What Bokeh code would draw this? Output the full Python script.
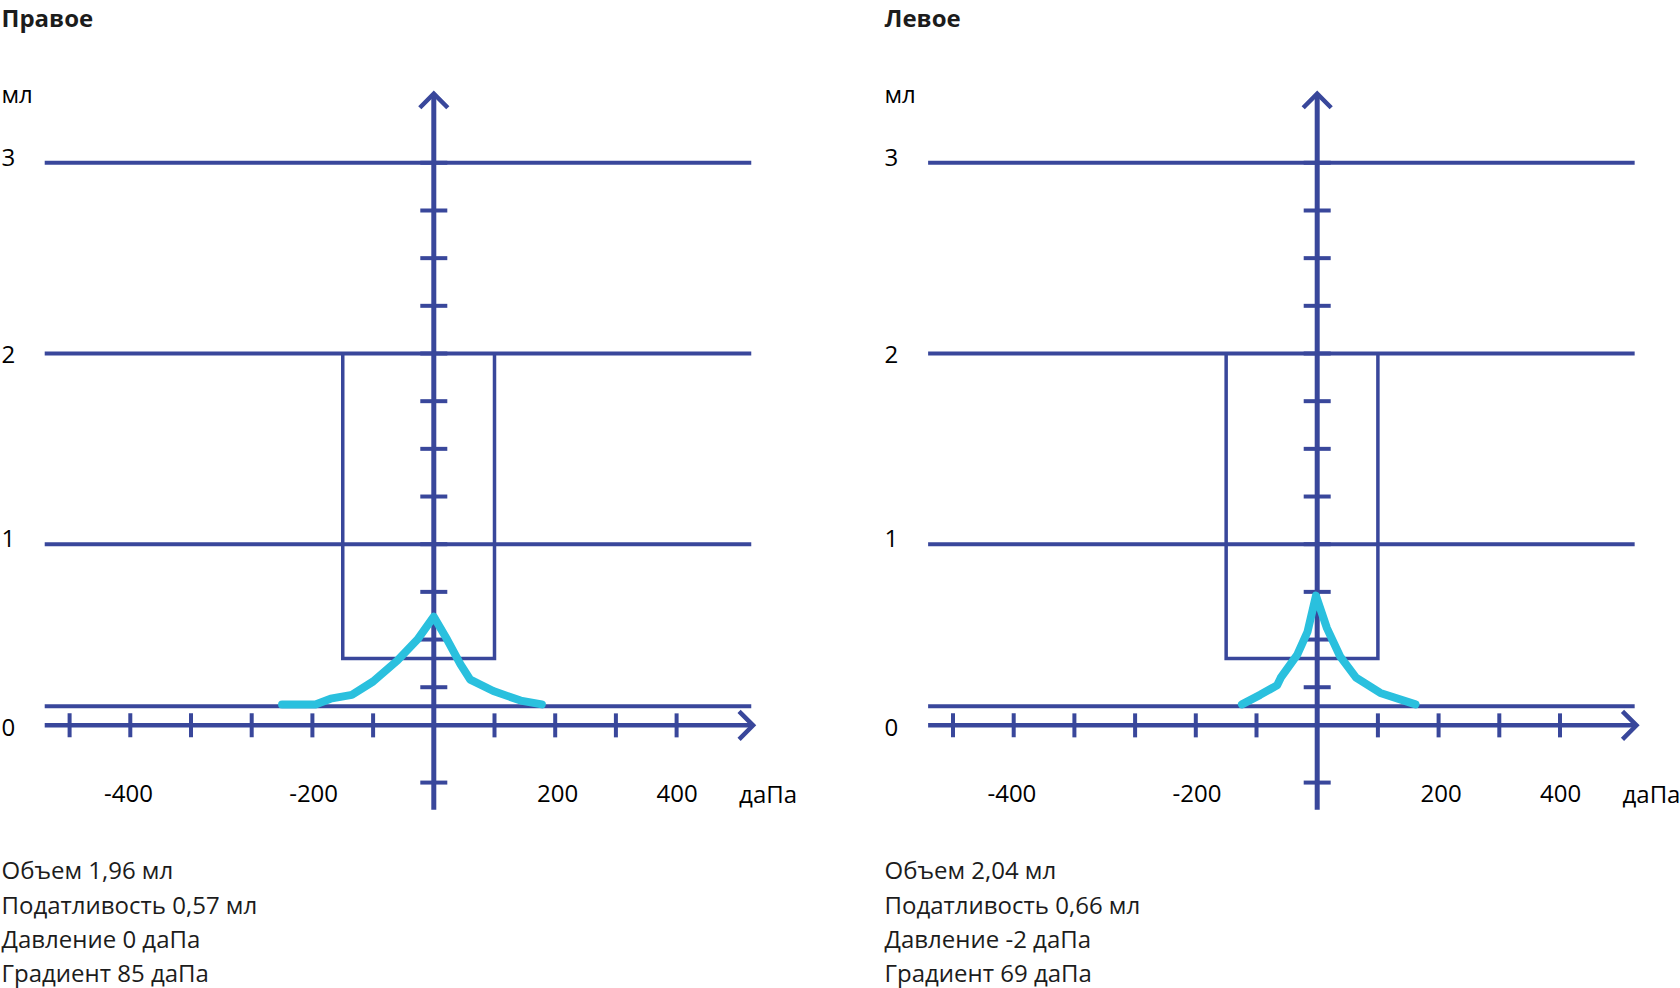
from bokeh.plotting import figure
from bokeh.layouts import row
from bokeh.models import Label, Range1d
from bokeh.core.properties import value
from bokeh.embed import file_html
from bokeh.resources import INLINE

# ---------------- data ----------------
panel_titles = ["Правое", "Левое"]

pressure_right_ear = [-250, -195, -170, -135, -100, -60, -27, 0, 22, 44, 60, 98, 143, 178]
volume_right_ear = [0.16, 0.16, 0.19, 0.21, 0.28, 0.39, 0.50, 0.62, 0.50, 0.37, 0.29, 0.23, 0.18, 0.16]

pressure_left_ear = [-124, -94, -66, -60, -33, -16, -2, 16, 38, 64, 104, 162]
volume_left_ear = [0.16, 0.21, 0.26, 0.30, 0.42, 0.54, 0.73, 0.56, 0.41, 0.30, 0.22, 0.16]

info_right_ear = ["Объем 1,96 мл", "Податливость 0,57 мл", "Давление 0 даПа", "Градиент 85 даПа"]
info_left_ear = ["Объем 2,04 мл", "Податливость 0,66 мл", "Давление -2 даПа", "Градиент 69 даПа"]

x_tick_values = [-600, -500, -400, -300, -200, -100, 100, 200, 300, 400]
x_tick_label_pos = [-503, -198, 204, 401]
x_tick_labels = ["-400", "-200", "200", "400"]
x_unit = "даПа"

y_tick_values = [-0.25, 0.25, 0.5, 0.75, 1, 1.25, 1.5, 1.75, 2, 2.25, 2.5, 2.75, 3]
y_grid_values = [3, 2, 1, 0.15]
y_labels = ["3", "2", "1", "0"]
y_label_pos = [3.03, 1.995, 1.028, 0.04]
y_unit = "мл"

norm_left, norm_right = -150, 100
norm_bottom, norm_top = 0.4, 2.0

x_min, x_max, x_tip = -641, 523, 526
x_axis_level = 0.05
y_axis_bottom, y_axis_top = -0.393, 3.362

# ---------------- style ----------------
BLUE = "#39479b"
CYAN = "#2ac0de"
TEXT = "#1c1c1c"
FONT = "Open Sans"
FS = "24px"
KX = 0.607   # px per daPa
KY = 190.7   # px per ml
H = 988
ZERO_FROM_TOP = 734.4  # px of volume 0 from the top of the figure


def make_panel(title, pres, vol, info, width, axis_px, text_px):
    p = figure(width=width, height=H, output_backend="svg", toolbar_location=None,
               x_axis_location=None, y_axis_location=None, min_border=0,
               x_range=Range1d(-axis_px / KX, (width - axis_px) / KX),
               y_range=Range1d((ZERO_FROM_TOP - H) / KY, ZERO_FROM_TOP / KY))
    p.outline_line_color = None
    p.xgrid.visible = False
    p.ygrid.visible = False
    p.background_fill_color = "white"
    p.border_fill_color = "white"

    # horizontal lines
    p.segment(x0=[x_min] * len(y_grid_values), y0=y_grid_values,
              x1=[x_max] * len(y_grid_values), y1=y_grid_values,
              line_color=BLUE, line_width=4)

    # norm box
    p.multi_line(xs=[[norm_left, norm_left, norm_right, norm_right]],
                 ys=[[norm_top, norm_bottom, norm_bottom, norm_top]],
                 line_color=BLUE, line_width=3.5, line_join="miter")

    # x axis with arrow
    ax_dx, ax_dy = 14 / KX, 14 / KY
    p.segment(x0=[x_min], y0=[x_axis_level], x1=[x_tip], y1=[x_axis_level],
              line_color=BLUE, line_width=4.5)
    p.multi_line(xs=[[x_tip - ax_dx, x_tip, x_tip - ax_dx]],
                 ys=[[x_axis_level + ax_dy, x_axis_level, x_axis_level - ax_dy]],
                 line_color=BLUE, line_width=4.5, line_join="miter")
    th = 12 / KY
    p.segment(x0=x_tick_values, y0=[x_axis_level - th] * len(x_tick_values),
              x1=x_tick_values, y1=[x_axis_level + th] * len(x_tick_values),
              line_color=BLUE, line_width=4)

    # y axis with arrow
    p.segment(x0=[0], y0=[y_axis_bottom], x1=[0], y1=[y_axis_top],
              line_color=BLUE, line_width=5)
    p.multi_line(xs=[[-ax_dx, 0, ax_dx]],
                 ys=[[y_axis_top - ax_dy, y_axis_top, y_axis_top - ax_dy]],
                 line_color=BLUE, line_width=4.5, line_join="miter")
    tw = 13.5 / KX
    p.segment(x0=[-tw] * len(y_tick_values), y0=y_tick_values,
              x1=[tw] * len(y_tick_values), y1=y_tick_values,
              line_color=BLUE, line_width=4)

    # tympanogram
    p.line(pres, vol, line_color=CYAN, line_width=8, line_cap="round", line_join="round")

    # x tick labels
    lab_y = -58.1 / KY
    p.text(x=x_tick_label_pos, y=[lab_y] * len(x_tick_labels), text=x_tick_labels,
           text_font=value(FONT), text_font_size=FS, text_color="#000000",
           text_align="center", text_baseline="alphabetic")
    p.text(x=[503], y=[lab_y], text=[x_unit],
           text_font=value(FONT), text_font_size=FS, text_color="#000000",
           text_align="left", text_baseline="alphabetic")

    # y labels (screen x, data y)
    for lab, pos in zip(y_labels, y_label_pos):
        p.add_layout(Label(x=text_px, x_units="screen", y=pos, text=lab,
                           text_font=FONT, text_font_size=FS, text_color="#000000",
                           text_align="left", text_baseline="alphabetic"))
    p.add_layout(Label(x=text_px, x_units="screen", y=(ZERO_FROM_TOP - 93.4) / KY,
                       text=y_unit, text_font=FONT, text_font_size=FS, text_color="#000000",
                       text_align="left", text_baseline="alphabetic"))

    # title
    p.add_layout(Label(x=text_px, x_units="screen", y=H - 17.4, y_units="screen",
                       text=title, text_font=FONT, text_font_size=FS, text_font_style="bold",
                       text_color=TEXT, text_align="left", text_baseline="alphabetic"))

    # info lines
    for i, line in enumerate(info):
        p.add_layout(Label(x=text_px, x_units="screen", y=118.6 - 34.1 * i, y_units="screen",
                           text=line, text_font=FONT, text_font_size=FS,
                           text_color=TEXT, text_align="left", text_baseline="alphabetic"))
    return p


p1 = make_panel(panel_titles[0], pressure_right_ear, volume_right_ear, info_right_ear,
                width=883, axis_px=433.3, text_px=1)
p2 = make_panel(panel_titles[1], pressure_left_ear, volume_left_ear, info_left_ear,
                width=797, axis_px=433.7, text_px=1)

layout = row(p1, p2)
open("out.html", "w").write(file_html(layout, INLINE))
